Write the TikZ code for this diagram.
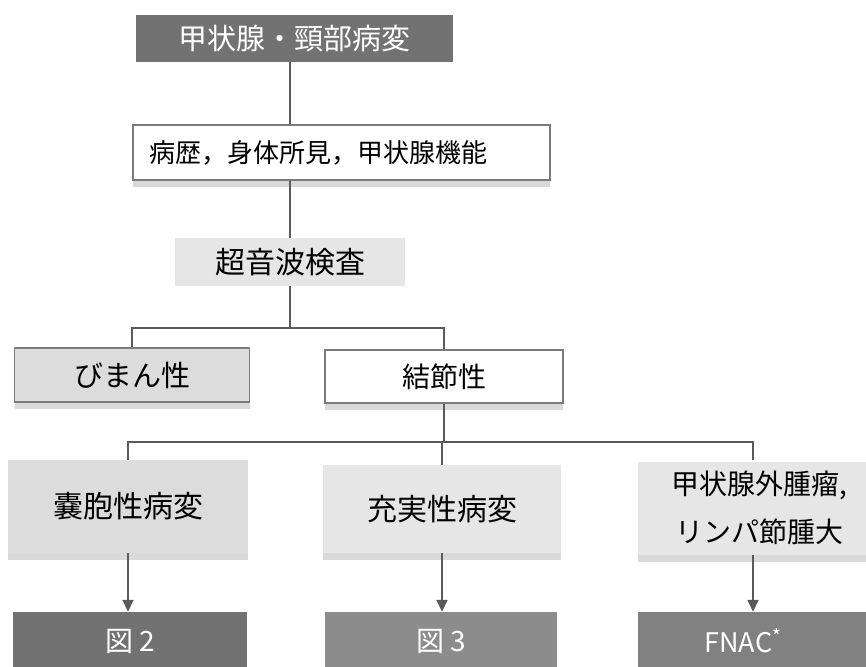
\documentclass[tikz,border=0pt]{standalone}
\usepackage{fontspec}
\setmainfont{Noto Sans CJK JP}
\usetikzlibrary{arrows.meta,shadows}
\definecolor{darkbox}{HTML}{727272}
\definecolor{midbox}{HTML}{8C8C8C}
\definecolor{lightbox}{HTML}{DCDCDC}
\definecolor{paler}{HTML}{E6E6E6}
\definecolor{linecol}{HTML}{5A5A5A}
\definecolor{shadowcol}{HTML}{D9D9D9}
\tikzset{
  x=1pt, y=-1pt,
  box/.style={rectangle, inner sep=0pt, anchor=center, font=\fontsize{28}{34}\selectfont},
  darkfill/.style={box, fill=darkbox, text=white},
  outline/.style={box, draw=linecol!80, line width=1.2pt},
  shade/.style={drop shadow={shadow xshift=0pt, shadow yshift=-7pt, fill=shadowcol, opacity=1}},
  conn/.style={draw=linecol, line width=1.6pt},
  arr/.style={conn, -{Triangle[width=11pt,length=12pt]}},
}
\begin{document}
\begin{tikzpicture}
\useasboundingbox (0,0) rectangle (866,666);
\clip (0,0) rectangle (866,666);
% level 1
\node[darkfill, minimum width=317pt, minimum height=47pt, font=\fontsize{29}{34}\selectfont] (top) at (294,38.5) {甲状腺・頸部病変};
% level 2
\node[outline, shade, fill=white, minimum width=417pt, minimum height=55pt, font=\fontsize{26}{32}\selectfont] (hist) at (341.5,152.5) {病歴，身体所見，甲状腺機能\hspace*{46pt}};
% level 3
\node[box, fill=paler, minimum width=230pt, minimum height=48pt, font=\fontsize{30}{34}\selectfont] (sono) at (290,262) {超音波検査};
% level 4
\node[outline, shade, fill=lightbox, minimum width=235pt, minimum height=54pt, font=\fontsize{29}{34}\selectfont] (diff) at (132,375) {びまん性};
\node[outline, shade, fill=white, minimum width=238pt, minimum height=53pt] (nod) at (444,376.5) {結節性};
% level 5
\node[box, shade, fill=lightbox, minimum width=240pt, minimum height=93pt, font=\fontsize{30}{34}\selectfont] (cyst) at (128,506.5) {嚢胞性病変};
\node[box, shade, fill=paler, minimum width=238pt, minimum height=88pt, font=\fontsize{30}{34}\selectfont] (solid) at (442,509) {充実性病変};
\node[box, shade, fill=paler, minimum width=242pt, minimum height=93pt, align=center, font=\fontsize{28}{48}\selectfont] (extra) at (759,508) {甲状腺外腫瘤,\\リンパ節腫大};
% level 6
\node[darkfill, minimum width=234pt, minimum height=58pt] (fig2) at (130,641) {図 2};
\node[box, fill=midbox, text=white, minimum width=232pt, minimum height=58pt] (fig3) at (441,641) {図 3};
\node[box, fill=midbox!92!black, text=white, minimum width=240pt, minimum height=58pt, font=\fontsize{27}{32}\selectfont] (fnac) at (758,641) {FNAC\textsuperscript{*}\hspace*{30pt}};
% junctions
\coordinate (j1) at (290,328);
\coordinate (j2) at (444,442);
\coordinate (ex) at (753,460);
\coordinate (hx) at (290,0);
% connectors
\draw[conn] (top.south -| hx) -- (hist.north -| hx);
\draw[conn] (hist.south -| hx) -- (sono.north);
\draw[conn] (sono) -- (j1);
\draw[conn] (diff.north) -- (diff.north |- j1) -- (nod.north |- j1) -- (nod.north);
\draw[conn] (nod.south) -- (j2);
\draw[conn] (cyst.north) -- (cyst.north |- j2) -- (ex |- j2) -- (ex);
\draw[conn] (solid.north) -- (solid.north |- j2);
\draw[arr] (cyst.south) -- (fig2.north -| cyst.south);
\draw[arr] (solid.south) -- (fig3.north -| solid.south);
\draw[arr] (extra.south -| ex) -- (fnac.north -| ex);
\end{tikzpicture}
\end{document}
